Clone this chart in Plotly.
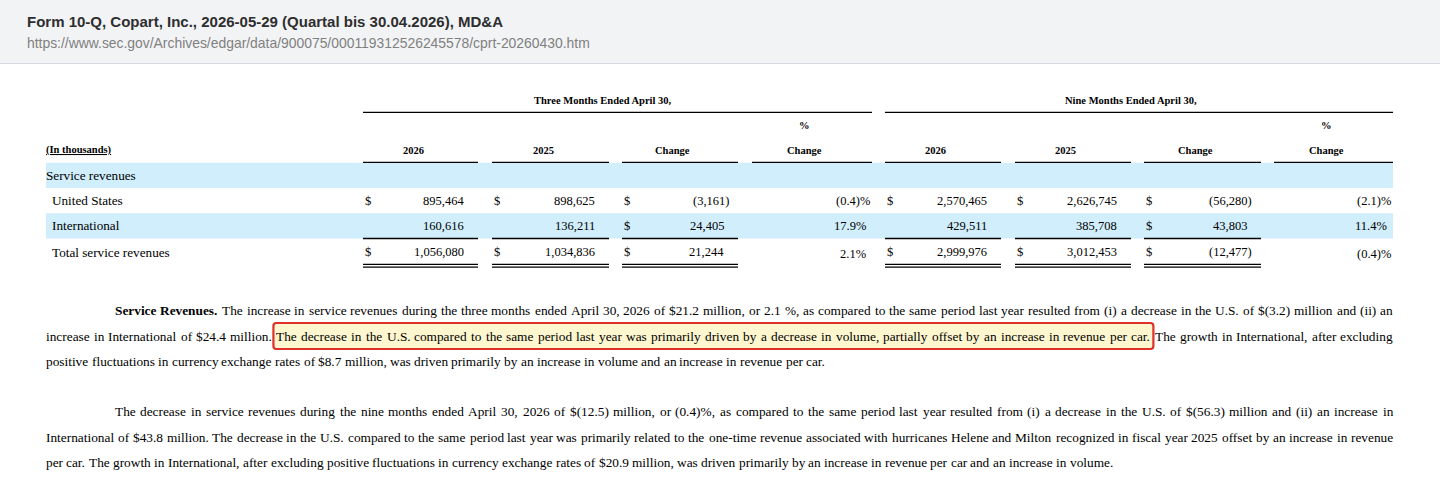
import plotly.graph_objects as go

# Page header
doc_title = "Form 10-Q, Copart, Inc., 2026-05-29 (Quartal bis 30.04.2026), MD&A"
doc_url = "https://www.sec.gov/Archives/edgar/data/900075/000119312526245578/cprt-20260430.htm"

# Table data
group_titles = ["Three Months Ended April 30,", "Nine Months Ended April 30,"]
col_heads = ["2026", "2025", "Change"]
row_labels = ["Service revenues", "United States", "International", "Total service revenues"]
three_2026 = ["", "895,464", "160,616", "1,056,080"]
three_2025 = ["", "898,625", "136,211", "1,034,836"]
three_change = ["", "(3,161)", "24,405", "21,244"]
three_pct = ["", "(0.4)%", "17.9%", "2.1%"]
nine_2026 = ["", "2,570,465", "429,511", "2,999,976"]
nine_2025 = ["", "2,626,745", "385,708", "3,012,453"]
nine_change = ["", "(56,280)", "43,803", "(12,477)"]
nine_pct = ["", "(2.1)%", "11.4%", "(0.4)%"]
year_dollar = [False, True, False, True]
change_dollar = [False, True, True, True]

# Text below the table
para1 = [
    "Service Revenues. The increase in service revenues during the three months ended April 30, 2026 of $21.2 million, or 2.1 %, as compared to the same period last year resulted from (i) a decrease in the U.S. of $(3.2) million and (ii) an",
    "increase in International of $24.4 million. The decrease in the U.S. compared to the same period last year was primarily driven by a decrease in volume, partially offset by an increase in revenue per car. The growth in International, after excluding",
    "positive fluctuations in currency exchange rates of $8.7 million, was driven primarily by an increase in volume and an increase in revenue per car.",
]
para2 = [
    "The decrease in service revenues during the nine months ended April 30, 2026 of $(12.5) million, or (0.4)%, as compared to the same period last year resulted from (i) a decrease in the U.S. of $(56.3) million and (ii) an increase in",
    "International of $43.8 million. The decrease in the U.S. compared to the same period last year was primarily related to the one-time revenue associated with hurricanes Helene and Milton recognized in fiscal year 2025 offset by an increase in revenue",
    "per car. The growth in International, after excluding positive fluctuations in currency exchange rates of $20.9 million, was driven primarily by an increase in revenue per car and an increase in volume.",
]
highlight = "The decrease in the U.S. compared to the same period last year was primarily driven by a decrease in volume, partially offset by an increase in revenue per car."

SERIF = "Liberation Serif, Times New Roman, serif"
SANS = "Liberation Sans, Arial, sans-serif"
FS = 13.33     # paragraph text
NUM = 12.5     # table figures
LAB = 13.2     # table row labels
HEAD = 10.5    # table headings

# Times glyph widths (1/1000 em), used to justify the paragraph lines
REG = {" ": 250, "$": 500, "%": 833, "(": 333, ")": 333, ",": 250, "-": 333, ".": 250, ":": 278}
REG.update({d: 500 for d in "0123456789"})
REG.update(dict(zip("ABCDEFGHIJKLMNOPQRSTUVWXYZ",
                    [722, 667, 667, 722, 611, 556, 722, 722, 333, 389, 722, 611, 889,
                     722, 722, 556, 722, 667, 556, 611, 722, 722, 944, 722, 722, 611])))
REG.update(dict(zip("abcdefghijklmnopqrstuvwxyz",
                    [444, 500, 444, 500, 444, 333, 500, 500, 278, 278, 500, 278, 778,
                     500, 500, 500, 500, 333, 389, 278, 500, 500, 722, 500, 500, 444])))
BOLD = dict(REG)
BOLD.update({"S": 556, "R": 722, "e": 444, "r": 444, "v": 500, "i": 278, "c": 444,
             "n": 556, "u": 556, "s": 389})


def text_w(s, size, bold=False):
    tbl = BOLD if bold else REG
    return sum(tbl.get(c, 500) for c in s) * size / 1000


shapes = []
anns = []


def label(x, y, text, size=NUM, anchor="left", color="black", family=SERIF):
    anns.append(dict(x=x, y=y, xref="x", yref="y", text=text, showarrow=False,
                     xanchor=anchor, yanchor="middle", borderpad=0, borderwidth=0,
                     font=dict(family=family, size=size, color=color)))


def hline(x0, x1, y, w=1.3, color="black"):
    shapes.append(dict(type="line", xref="x", yref="y", x0=x0, x1=x1, y0=y, y1=y,
                       line=dict(color=color, width=w)))


def band(x0, x1, y0, y1, fill):
    shapes.append(dict(type="rect", xref="x", yref="y", x0=x0, x1=x1, y0=y0, y1=y1,
                       fillcolor=fill, line=dict(width=0), layer="below"))


# header strip
band(0, 1440, 0, 63, "#f2f3f5")
hline(0, 1440, 63.5, w=1, color="#d5dbe1")
label(27, 21, "<b>" + doc_title + "</b>", size=15, color="#2e2e2e", family=SANS)
label(27, 43, doc_url, size=13.9, color="#808080", family=SANS)

# table
row_y = [175.3, 200.5, 225.8, 252]
band(46, 1393, row_y[0] - 12.6, row_y[0] + 12.6, "#d0eefb")
band(46, 1393, row_y[2] - 12.6, row_y[2] + 12.6, "#d0eefb")

label(46, 150, "<b><u>(In thousands)</u></b>", size=HEAD)
for i, name in enumerate(row_labels):
    label(46 if i == 0 else 52, row_y[i], name, size=LAB)

groups = [
    dict(left=[363, 492, 622, 752], right=[478, 609, 738, 872], tx=603,
         cols=[three_2026, three_2025, three_change, three_pct]),
    dict(left=[885, 1015, 1144, 1274], right=[1001, 1131, 1261, 1393], tx=1131,
         cols=[nine_2026, nine_2025, nine_change, nine_pct]),
]
for g, title in zip(groups, group_titles):
    L, R = g["left"], g["right"]
    hline(L[0], R[3], 112.3)
    label(g["tx"], 100, "<b>" + title + "</b>", size=HEAD, anchor="center")
    for j in range(4):
        hline(L[j], R[j], 162.3)
        cx = (L[j] + R[j]) / 2 - 7.5
        if j < 3:
            label(cx, 150, "<b>" + col_heads[j] + "</b>", size=HEAD, anchor="center")
            hline(L[j], R[j], 238.5)
            hline(L[j], R[j], 264.3)
            hline(L[j], R[j], 267.2)
        else:
            label(cx, 125, "<b>%</b>", size=HEAD, anchor="center")
            label(cx, 150, "<b>Change</b>", size=HEAD, anchor="center")
        flags = change_dollar if j == 2 else year_dollar
        for i, v in enumerate(g["cols"][j]):
            if j < 3 and flags[i]:
                label(L[j] + 1.5, row_y[i], "$")
            if not v:
                continue
            if j < 3:
                xr = R[j] - 14 + (5 if v.endswith(")") else 0)
            else:
                xr = R[j] - 6 + (4 if v.startswith("(") else 0)
            label(xr, row_y[i] + (1.5 if i == 3 and j == 3 else 0), v, anchor="right")


def draw_line(text, x0, x1, y, justify, n_bold=0):
    words = text.split(" ")
    bold = [k < n_bold for k in range(len(words))]
    widths = [text_w(w, FS, b) for w, b in zip(words, bold)]
    gap = text_w(" ", FS)
    if justify and len(words) > 1:
        gap = (x1 - x0 - sum(widths)) / (len(words) - 1)
    spans = []
    x = x0
    for w, b, wd in zip(words, bold, widths):
        label(x, y, "<b>" + w + "</b>" if b else w, size=FS)
        spans.append((x, x + wd))
        x += wd + gap
    return words, spans


PX0, PX1, INDENT = 46, 1393, 115
for lines, ys, lead in [(para1, [310.5, 336, 361.5], 2), (para2, [411, 437, 462.5], 0)]:
    for k, (line, y) in enumerate(zip(lines, ys)):
        words, spans = draw_line(line, INDENT if k == 0 else PX0, PX1, y,
                                 justify=k < len(lines) - 1, n_bold=lead if k == 0 else 0)
        if highlight in line:
            first = len(line[:line.index(highlight)].split(" ")) - 1
            last = first + len(highlight.split(" ")) - 1
            x0, x1 = spans[first][0] - 3, spans[last][1] + 3
            y0, y1 = y - 13, y + 13
            r = 3
            band(x0, x1, y0, y1, "#fdf6cf")
            shapes.append(dict(
                type="path", xref="x", yref="y", layer="below",
                path=(f"M{x0 + r},{y0} L{x1 - r},{y0} Q{x1},{y0} {x1},{y0 + r} "
                      f"L{x1},{y1 - r} Q{x1},{y1} {x1 - r},{y1} L{x0 + r},{y1} "
                      f"Q{x0},{y1} {x0},{y1 - r} L{x0},{y0 + r} Q{x0},{y0} {x0 + r},{y0} Z"),
                line=dict(color="#e0302b", width=2.2)))

fig = go.Figure()
fig.update_layout(
    width=1440, height=494,
    margin=dict(l=0, r=0, t=0, b=0),
    paper_bgcolor="white", plot_bgcolor="white",
    xaxis=dict(range=[0, 1440], visible=False, fixedrange=True),
    yaxis=dict(range=[494, 0], visible=False, fixedrange=True),
    shapes=shapes, annotations=anns, showlegend=False,
)
fig.write_html("out.html", config={"displayModeBar": False},
               post_script="document.body.style.margin='0';")
